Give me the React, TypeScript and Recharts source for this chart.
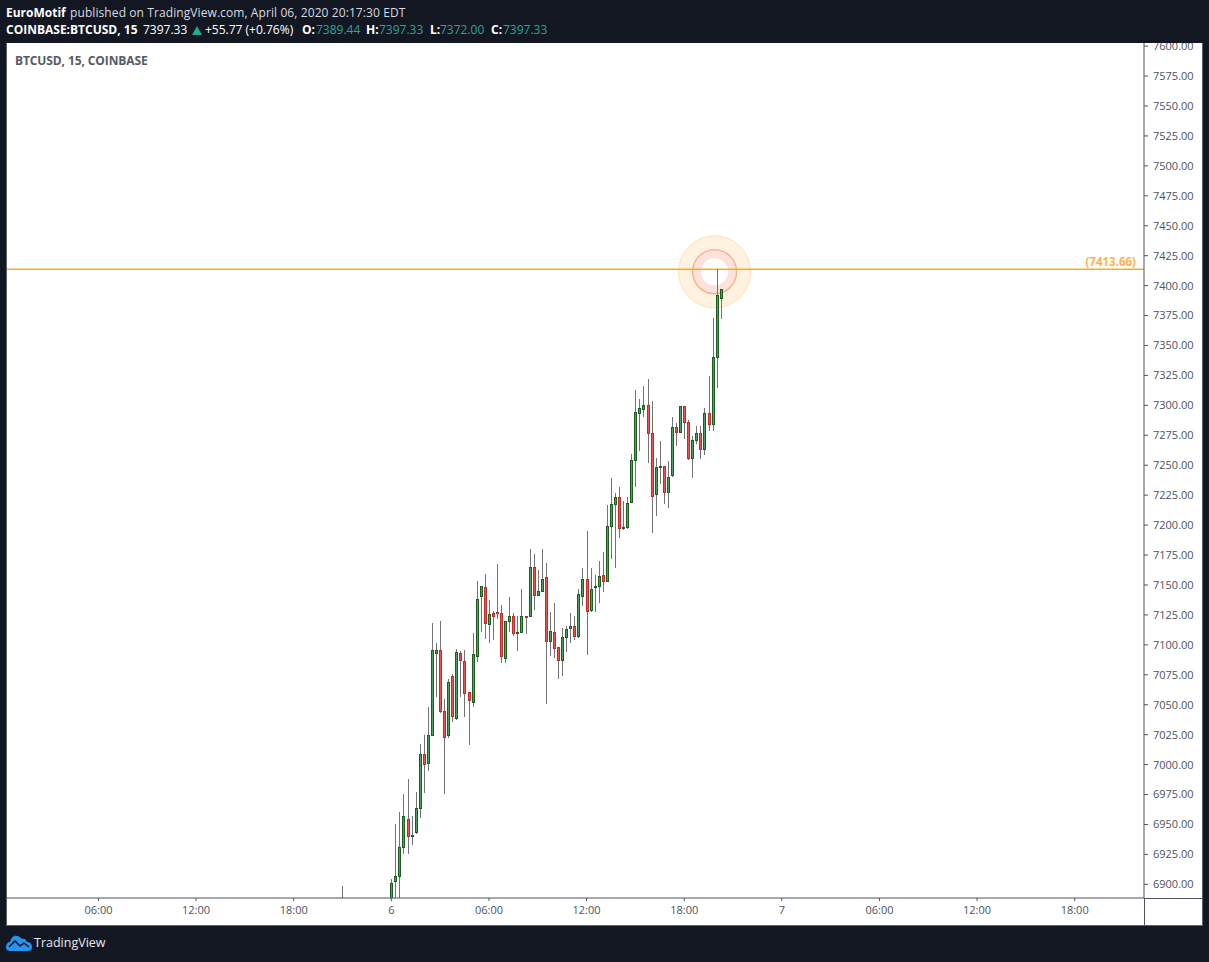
import React from 'react';
import { ComposedChart, Bar, XAxis, YAxis, ReferenceLine, ReferenceDot } from 'recharts';

// 15 minute candles of Apr 6, first one at 00:00
const opens = [
    6878, 6902.7, 6906.9, 6931.1, 6954.8, 6940, 6943.7, 6963.7, 7009.1, 7001.3,
    7024.7, 7093.2, 7096, 7045, 7024.7, 7074.2, 7038.9, 7093.4, 7086.8, 7060.9,
    7052.2, 7090.6, 7140.8, 7148.6, 7117.4, 7126.8, 7127.7, 7126.8, 7089, 7119.9,
    7124.3, 7109.9, 7110.7, 7124.3, 7123.8, 7165.3, 7141.6, 7144.9, 7156.9, 7103.2,
    7111, 7098.4, 7087.3, 7106.5, 7114, 7116, 7107.3, 7141, 7155.2, 7129.1,
    7148.3, 7149.4, 7158.5, 7153.2, 7199.2, 7217.6, 7223.7, 7197.5, 7198.4, 7219.2,
    7254.3, 7293.8, 7297.2, 7300.5, 7277.1, 7225.9, 7248.7, 7249.6, 7227.6, 7241.8,
    7282.2, 7277.7, 7299.7, 7286.3, 7256, 7271, 7277.1, 7263.5, 7293.8, 7284.4,
    7340.3, 7389.44,
];
const highs = [
    6904.7, 6950.1, 6960.1, 6975.1, 6987.6, 6956.7, 6976.8, 7017.4, 7024.4, 7047.8,
    7118.5, 7101.2, 7119.6, 7054.5, 7071.7, 7075.9, 7096.2, 7094.6, 7095.4, 7060.9,
    7109.6, 7153, 7149.4, 7158.9, 7137.1, 7128.5, 7167.2, 7133, 7120.2, 7139.6,
    7126.8, 7124.3, 7146.3, 7124.3, 7179.7, 7175.6, 7162.2, 7179.7, 7168, 7127.1,
    7134.6, 7098.4, 7113.8, 7115.4, 7126.3, 7123.8, 7146.9, 7163.9, 7194.8, 7163.9,
    7158, 7169.7, 7177.2, 7216.4, 7239, 7226.5, 7231.5, 7219.8, 7223.1, 7259.6,
    7312.5, 7305, 7315.8, 7321.7, 7303.3, 7256.3, 7269.9, 7249.6, 7253.2, 7289.9,
    7284.9, 7299.7, 7299.7, 7287.4, 7274.6, 7282.7, 7283, 7297.4, 7324.2, 7372.6,
    7413.66, 7397.33,
];
const lows = [
    6870, 6880, 6878, 6925, 6925, 6932.5, 6941.7, 6955.1, 6975.9, 6994.3,
    7024.7, 7056.1, 7042.8, 6975.1, 7021.9, 7035.3, 7036.9, 7056.1, 7039.4, 7016,
    7048, 7085.4, 7110.4, 7104.6, 7101.2, 7103.7, 7121.3, 7084.5, 7084.5, 7110.4,
    7107.1, 7094.5, 7110.7, 7108.7, 7122.9, 7128.8, 7140.5, 7144.9, 7050.3, 7090.4,
    7088.7, 7071.2, 7073.7, 7093.7, 7101.2, 7104, 7105.4, 7132.1, 7091.2, 7127.4,
    7127.4, 7134.9, 7144.1, 7153.2, 7171.3, 7163.8, 7189.2, 7195.6, 7196.7, 7218.4,
    7231.5, 7261.5, 7290.2, 7251.5, 7193.1, 7207.3, 7234, 7217.3, 7213.9, 7239.8,
    7265.7, 7277.7, 7271.6, 7254, 7239, 7267.4, 7254.9, 7258.2, 7278.3, 7278.5,
    7314.4, 7372,
];
const closes = [
    6901.3, 6907.2, 6931.4, 6957.3, 6940.3, 6940.9, 6964, 7009.1, 7000.5, 7025,
    7096, 7095.4, 7044.7, 7023, 7069.2, 7040.3, 7094.3, 7087.3, 7059.8, 7053.9,
    7092.6, 7138.5, 7149.4, 7118.2, 7126, 7124, 7126.6, 7090.6, 7120.2, 7124.3,
    7109.9, 7111, 7124.3, 7123.8, 7165.3, 7141.6, 7145.2, 7155.2, 7103.2, 7111.8,
    7097.3, 7087.3, 7106.8, 7113.5, 7116, 7107.3, 7142.7, 7155.2, 7128.2, 7146.9,
    7149.4, 7157.7, 7153.2, 7199.5, 7217.8, 7223.7, 7197.5, 7198.6, 7218.7, 7254.6,
    7294.7, 7298, 7300.5, 7276.9, 7224.2, 7248.7, 7249.6, 7227.6, 7240.4, 7282.2,
    7277.7, 7299.7, 7286, 7255.7, 7271.3, 7277.1, 7263.5, 7293.8, 7284.4, 7340.6,
    7392.4, 7397.33,
];

// the one earlier candle whose wick pokes up over the bottom edge, 21:00 on the 5th
const strayCandle = { hour: -3, open: 6880, high: 6899, low: 6870, close: 6885 };

const priceTicks = [
    6900, 6925, 6950, 6975, 7000, 7025, 7050, 7075, 7100, 7125, 7150, 7175, 7200, 7225, 7250,
    7275, 7300, 7325, 7350, 7375, 7400, 7425, 7450, 7475, 7500, 7525, 7550, 7575, 7600,
];
const hourTicks = [-18, -12, -6, 0, 6, 12, 18, 24, 30, 36, 42];
const hourLabels = ['06:00', '12:00', '18:00', '6', '06:00', '12:00', '18:00', '7', '06:00', '12:00', '18:00'];

const alertPrice = 7413.66;
const alertCenter = { hour: 19.87, price: 7411.5 };

const data = [
    strayCandle,
    ...opens.map((open, i) => ({ hour: i * 0.25, open, high: highs[i], low: lows[i], close: closes[i] })),
];

const FONT = '"Open Sans", sans-serif';
const TEAL = '#26a69a';

const Candle = (props: any) => {
    const { x, y, width, height, payload } = props;
    const { open, high, low, close } = payload;
    const cx = Math.floor(x + width / 2);
    const top = Math.min(y, y + height);
    const h = Math.abs(height);
    const perUnit = h / (high - low);
    const yOf = (v: number) => Math.round(top + (high - v) * perUnit);
    const up = close >= open;
    const bodyTop = yOf(Math.max(open, close));
    const bodyBottom = Math.max(yOf(Math.min(open, close)), bodyTop + 1);
    return (
        <g shapeRendering="crispEdges">
            <rect x={cx} y={yOf(high)} width={1} height={yOf(low) - yOf(high)} fill="#737375" />
            <rect
                x={cx - 1}
                y={bodyTop}
                width={3}
                height={bodyBottom - bodyTop + 1}
                fill={up ? '#1b5e20' : '#c62828'}
            />
            {bodyBottom - bodyTop > 1 && (
                <rect x={cx} y={bodyTop + 1} width={1} height={bodyBottom - bodyTop - 1} fill={up ? '#4f9f62' : '#ef5350'} />
            )}
        </g>
    );
};

const Abs = ({ x, y, color, bold, size = 12, spacing = 0, children }: any) => (
    <span
        style={{
            position: 'absolute',
            left: x,
            top: y,
            color,
            fontWeight: bold ? 700 : 400,
            fontSize: size,
            letterSpacing: spacing,
            lineHeight: '16px',
            whiteSpace: 'nowrap',
        }}
    >
        {children}
    </span>
);

const Logo = () => (
    <svg style={{ position: 'absolute', left: 6, top: 935 }} width={27} height={17} viewBox="0 0 27 17">
        <path
            d="M0 12 C0 9 2 7 4 7 C5 3 8 0 11 1 C13 1 15 3 16 4 C18 3 20 4 21 7 C24 7 26 9 26 12 C26 15 24 16 22 16 L4 16 C2 16 0 15 0 12 Z"
            fill="#2196f3"
        />
        <path d="M3 12 L9 6 L14 11 L18 8 L23 12" fill="none" stroke="#131722" strokeWidth={1.6} />
    </svg>
);

const App = () => {
    return (
        <div style={{ position: 'absolute', left: 0, top: 0, width: 1209, height: 962, background: '#131722', fontFamily: FONT, overflow: 'hidden' }}>
            <div style={{ position: 'absolute', left: 6, top: 42, width: 1195, height: 882, background: '#fff', border: '1px solid #5d606b' }} />
            <div style={{ position: 'absolute', left: 1144, top: 898, width: 58, height: 1, background: '#50535e' }} />
            <div style={{ position: 'absolute', left: 1144, top: 898, width: 1, height: 27, background: '#50535e' }} />

            <div style={{ position: 'absolute', left: 0, top: 0 }}>
                <ComposedChart
                    width={1209}
                    height={962}
                    data={data}
                    margin={{ top: 43, right: 7, bottom: 37, left: 7 }}
                >
                    <XAxis
                        dataKey="hour"
                        type="number"
                        domain={[-23.62, 46.26]}
                        allowDataOverflow
                        ticks={hourTicks}
                        interval={0}
                        height={27}
                        tickSize={3}
                        tickMargin={5}
                        stroke="#50535e"
                        tick={{ fontSize: 11, fill: '#4c525e', fontFamily: FONT }}
                        tickFormatter={(v: number) => hourLabels[hourTicks.indexOf(v)]}
                    />
                    <YAxis
                        orientation="right"
                        type="number"
                        domain={[6888.6, 7602.6]}
                        allowDataOverflow
                        ticks={priceTicks}
                        interval={0}
                        width={58}
                        tickSize={4}
                        tickMargin={5}
                        stroke="#50535e"
                        tick={{ fontSize: 11, fill: '#4c525e', fontFamily: FONT, textAnchor: 'start' }}
                        tickFormatter={(v: number) => v.toFixed(2)}
                    />
                    <ReferenceDot zIndex={10} x={alertCenter.hour} y={alertCenter.price} r={36} fill="#fff3e0" stroke="#ffe0b8" strokeWidth={1} />
                    <ReferenceDot zIndex={11} x={alertCenter.hour} y={alertCenter.price} r={22} fill="#fbe3da" stroke="#f6b397" strokeWidth={1.5} />
                    <ReferenceDot zIndex={12} x={alertCenter.hour} y={alertCenter.price} r={13.5} fill="#ffffff" stroke="none" />
                    <ReferenceLine
                        zIndex={20}
                        y={alertPrice}
                        stroke="#ffa726"
                        strokeWidth={1.7}
                        label={{
                            value: '(7413.66)',
                            position: 'insideBottomRight',
                            offset: 3,
                            dx: -5,
                            fill: '#ffb04d',
                            fontSize: 11.5,
                            fontWeight: 700,
                            fontFamily: FONT,
                        }}
                    />
                    <Bar
                        zIndex={30}
                        dataKey={(d: any) => [d.low, d.high]}
                        barSize={3}
                        shape={<Candle />}
                        isAnimationActive={false}
                    />
                </ComposedChart>
            </div>

            {/* header sits over the chart so the 7600 label gets cut like in the original */}
            <div style={{ position: 'absolute', left: 0, top: 0, width: 1209, height: 43, background: '#131722' }}>
                <Abs x={6} y={5} color="#fff" bold>EuroMotif</Abs>
                <Abs x={70} y={5} color="#d8dae0" spacing={0.09}>published on TradingView.com, April 06, 2020 20:17:30 EDT</Abs>
                <Abs x={6} y={22} color="#fff" bold>COINBASE:BTCUSD, 15</Abs>
                <Abs x={143} y={22} color="#fff">7397.33</Abs>
                <svg style={{ position: 'absolute', left: 192, top: 25 }} width={10} height={10}>
                    <polygon points="0,10 10,10 5,1" fill={TEAL} />
                </svg>
                <Abs x={205} y={22} color="#fff">+55.77 (+0.76%)</Abs>
                <Abs x={302} y={22} color="#fff" bold>O:</Abs>
                <Abs x={316} y={22} color={TEAL}>7389.44</Abs>
                <Abs x={366} y={22} color="#fff" bold>H:</Abs>
                <Abs x={379} y={22} color={TEAL}>7397.33</Abs>
                <Abs x={430} y={22} color="#fff" bold>L:</Abs>
                <Abs x={440} y={22} color={TEAL}>7372.00</Abs>
                <Abs x={491} y={22} color="#fff" bold>C:</Abs>
                <Abs x={503} y={22} color={TEAL}>7397.33</Abs>
            </div>
            <Abs x={15} y={53} color="#555a66" bold spacing={-0.1}>BTCUSD, 15, COINBASE</Abs>

            <Logo />
            <Abs x={34} y={935} color="#e6e8ee" size={12.5}>TradingView</Abs>
        </div>
    );
};

export default App;
